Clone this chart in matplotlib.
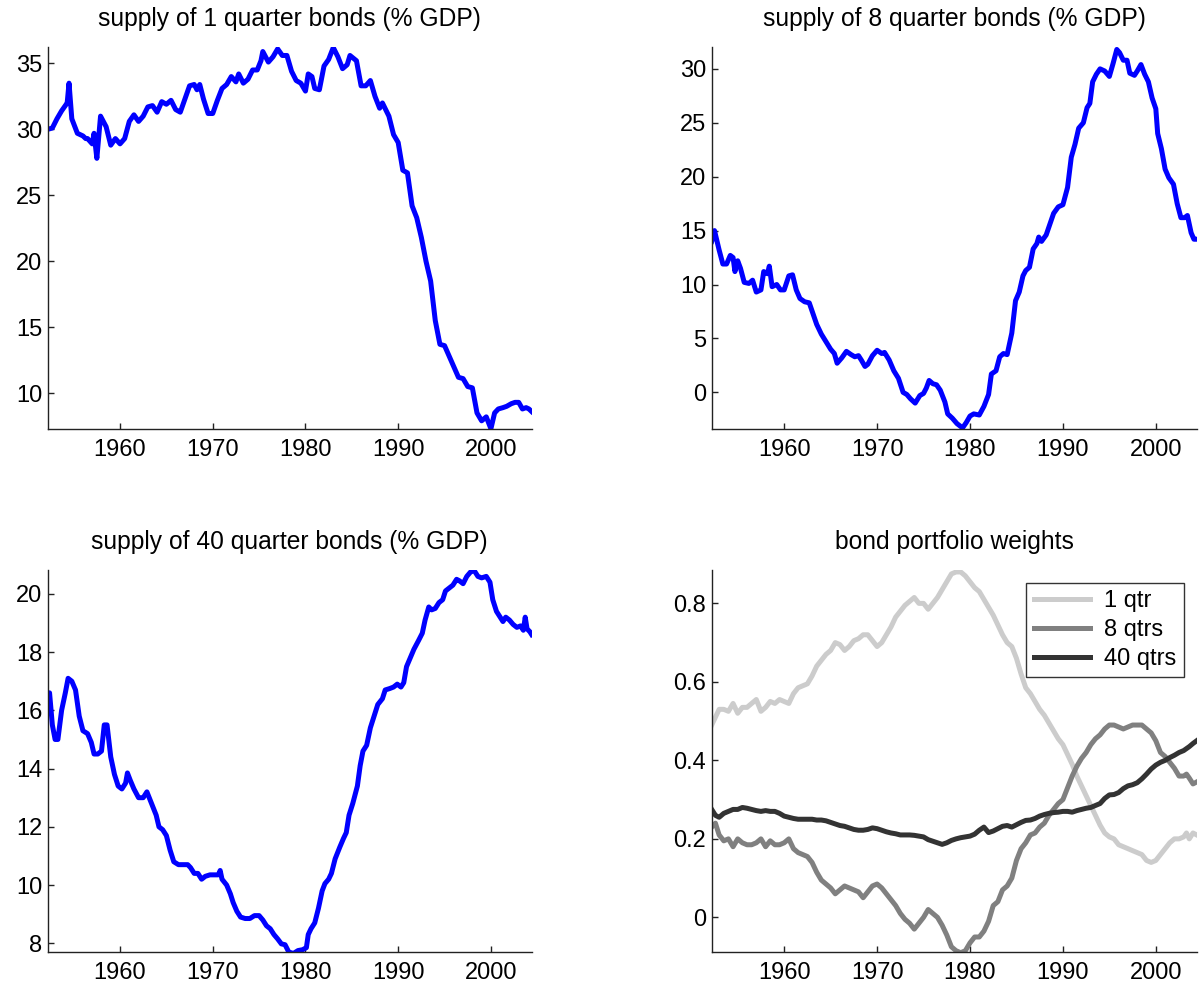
import numpy as np
import matplotlib
matplotlib.use("Agg")
import matplotlib.pyplot as plt

plt.rcParams['font.family'] = ['Liberation Sans', 'DejaVu Sans']

# ---- supply of 1 quarter bonds (% GDP) ----
yr_1q = [1952.2, 1952.7, 1953.2, 1953.7, 1954.2, 1954.3, 1954.5, 1954.8, 1955.4, 1956.0,
         1956.3, 1956.5, 1957.0, 1957.2, 1957.5, 1957.9, 1958.5, 1959.0, 1959.5, 1960.0,
         1960.5, 1961.0, 1961.5, 1962.0, 1962.5, 1963.0, 1963.5, 1964.0, 1964.5, 1965.0,
         1965.5, 1966.0, 1966.5, 1967.0, 1967.5, 1968.0, 1968.3, 1968.6, 1969.0, 1969.5,
         1970.0, 1970.5, 1971.0, 1971.5, 1972.0, 1972.5, 1972.8, 1973.3, 1973.8, 1974.3,
         1974.8, 1975.2, 1975.4, 1976.0, 1976.5, 1977.0, 1977.5, 1978.0, 1978.5, 1979.0,
         1979.5, 1980.0, 1980.3, 1980.7, 1981.0, 1981.5, 1982.0, 1982.5, 1983.0, 1983.5,
         1984.0, 1984.5, 1984.8, 1985.5, 1986.0, 1986.5, 1987.0, 1987.5, 1988.0, 1988.3,
         1989.0, 1989.5, 1990.0, 1990.5, 1991.0, 1991.5, 1992.0, 1992.5, 1993.0, 1993.5,
         1994.0, 1994.5, 1995.0, 1995.5, 1996.0, 1996.5, 1997.0, 1997.5, 1998.0, 1998.5,
         1999.0, 1999.5, 2000.0, 2000.4, 2000.8, 2001.3, 2001.7, 2002.2, 2002.6, 2003.0,
         2003.4, 2003.8, 2004.1, 2004.4]
sup_1q = [30.0, 30.1, 30.8, 31.4, 31.9, 32.0, 33.5, 30.8, 29.7, 29.5,
          29.3, 29.3, 28.9, 29.7, 27.8, 31.0, 30.2, 28.8, 29.3, 28.9,
          29.3, 30.6, 31.1, 30.6, 31.0, 31.7, 31.8, 31.3, 32.1, 31.9,
          32.2, 31.5, 31.3, 32.3, 33.3, 33.4, 33.0, 33.4, 32.3, 31.2,
          31.2, 32.2, 33.1, 33.4, 34.0, 33.6, 34.2, 33.5, 33.8, 34.5,
          34.5, 35.2, 35.9, 35.1, 35.5, 36.1, 35.6, 35.6, 34.4, 33.7,
          33.5, 32.9, 34.2, 34.0, 33.1, 33.0, 34.8, 35.3, 36.2, 35.5,
          34.6, 34.9, 35.6, 35.2, 33.3, 33.3, 33.7, 32.5, 31.6, 32.0,
          31.0, 29.6, 29.0, 26.9, 26.7, 24.2, 23.3, 21.8, 20.0, 18.5,
          15.5, 13.7, 13.6, 12.8, 12.0, 11.2, 11.1, 10.5, 10.4, 8.5,
          7.9, 8.2, 7.3, 8.5, 8.8, 8.9, 9.0, 9.2, 9.3, 9.3,
          8.8, 8.9, 8.8, 8.6]

# ---- supply of 8 quarter bonds (% GDP) ----
yr_8q = [1952.2, 1952.5, 1953.0, 1953.4, 1953.8, 1954.2, 1954.5, 1954.7, 1955.0, 1955.3,
         1955.7, 1956.2, 1956.6, 1957.0, 1957.5, 1957.8, 1958.2, 1958.4, 1958.7, 1959.2,
         1959.6, 1960.0, 1960.5, 1960.9, 1961.3, 1961.7, 1962.2, 1962.7, 1963.1, 1963.5,
         1964.0, 1964.5, 1965.0, 1965.4, 1965.7, 1966.2, 1966.7, 1967.2, 1967.6, 1968.0,
         1968.3, 1968.7, 1969.0, 1969.5, 1970.0, 1970.5, 1970.8, 1971.3, 1971.8, 1972.3,
         1972.8, 1973.2, 1973.6, 1974.1, 1974.6, 1975.0, 1975.3, 1975.6, 1976.0, 1976.4,
         1976.8, 1977.3, 1977.6, 1978.1, 1978.6, 1979.2, 1979.6, 1980.0, 1980.4, 1981.0,
         1981.5, 1982.0, 1982.3, 1982.8, 1983.2, 1983.6, 1984.0, 1984.5, 1984.9, 1985.3,
         1985.7, 1986.0, 1986.4, 1986.8, 1987.2, 1987.4, 1987.7, 1988.2, 1988.6, 1989.0,
         1989.5, 1990.0, 1990.5, 1990.9, 1991.3, 1991.7, 1992.2, 1992.6, 1992.9, 1993.2,
         1993.6, 1994.0, 1994.5, 1995.0, 1995.4, 1995.8, 1996.1, 1996.5, 1996.9, 1997.2,
         1997.7, 1998.0, 1998.4, 1998.8, 1999.2, 1999.6, 2000.0, 2000.2, 2000.6, 2001.0,
         2001.4, 2001.9, 2002.3, 2002.7, 2003.1, 2003.4, 2003.8, 2004.1, 2004.4]
sup_8q = [14.0, 15.0, 13.2, 11.9, 11.9, 12.7, 12.5, 11.2, 12.2, 11.5,
          10.2, 10.1, 10.4, 9.3, 9.5, 11.2, 11.0, 11.7, 9.8, 10.0,
          9.5, 9.5, 10.8, 10.9, 9.5, 8.7, 8.4, 8.3, 7.3, 6.3,
          5.4, 4.7, 4.0, 3.6, 2.7, 3.2, 3.8, 3.5, 3.3, 3.4,
          3.0, 2.4, 2.6, 3.4, 3.9, 3.6, 3.7, 3.0, 2.0, 1.3,
          0.0, -0.2, -0.6, -1.0, -0.3, -0.1, 0.4, 1.1, 0.8, 0.7,
          0.2, -0.9, -2.0, -2.4, -2.9, -3.3, -2.8, -2.2, -2.0, -2.1,
          -1.3, -0.2, 1.7, 2.0, 3.3, 3.6, 3.5, 5.5, 8.5, 9.3,
          10.8, 11.3, 11.6, 13.3, 13.8, 14.4, 14.0, 14.6, 15.6, 16.6,
          17.2, 17.4, 19.0, 21.8, 23.0, 24.5, 25.0, 26.4, 26.8, 28.8,
          29.5, 30.0, 29.8, 29.3, 30.5, 31.8, 31.5, 30.8, 30.8, 29.6,
          29.4, 29.8, 30.4, 29.5, 28.8, 27.3, 26.3, 24.0, 22.6, 20.7,
          19.9, 19.3, 17.5, 16.2, 16.2, 16.4, 14.8, 14.2, 14.2]

# ---- supply of 40 quarter bonds (% GDP) ----
yr_40q = [1952.2, 1952.4, 1952.7, 1953.0, 1953.3, 1953.7, 1954.1, 1954.4, 1954.8, 1955.2,
          1955.6, 1956.0, 1956.5, 1956.9, 1957.2, 1957.6, 1958.0, 1958.3, 1958.6, 1959.0,
          1959.4, 1959.8, 1960.2, 1960.6, 1960.8, 1961.1, 1961.5, 1962.0, 1962.5, 1962.9,
          1963.4, 1963.9, 1964.2, 1964.6, 1965.0, 1965.4, 1965.8, 1966.3, 1966.8, 1967.3,
          1967.6, 1968.0, 1968.4, 1968.8, 1969.2, 1969.7, 1970.2, 1970.6, 1970.8, 1971.0,
          1971.5, 1971.9, 1972.2, 1972.6, 1973.0, 1973.5, 1974.0, 1974.5, 1975.0, 1975.4,
          1975.8, 1976.2, 1976.6, 1977.0, 1977.4, 1977.8, 1978.2, 1978.7, 1979.2, 1979.7,
          1980.1, 1980.3, 1980.6, 1981.0, 1981.4, 1981.8, 1982.1, 1982.5, 1982.8, 1983.2,
          1983.7, 1984.1, 1984.4, 1984.7, 1985.1, 1985.6, 1985.9, 1986.2, 1986.6, 1987.0,
          1987.4, 1987.8, 1988.3, 1988.6, 1989.1, 1989.5, 1989.9, 1990.3, 1990.6, 1990.9,
          1991.3, 1991.7, 1992.2, 1992.6, 1992.9, 1993.3, 1993.6, 1994.0, 1994.4, 1994.8,
          1995.1, 1995.5, 1995.9, 1996.3, 1996.6, 1997.0, 1997.4, 1997.8, 1998.2, 1998.6,
          1999.0, 1999.5, 1999.9, 2000.2, 2000.6, 2001.0, 2001.3, 2001.6, 2002.0, 2002.4,
          2002.8, 2003.2, 2003.5, 2003.7, 2003.9, 2004.2, 2004.4]
sup_40q = [16.6, 16.6, 15.5, 15.0, 15.0, 16.0, 16.6, 17.1, 17.0, 16.7,
           15.8, 15.3, 15.2, 14.9, 14.5, 14.5, 14.6, 15.5, 15.5, 14.4,
           13.8, 13.4, 13.3, 13.5, 13.85, 13.6, 13.3, 13.0, 13.0, 13.2,
           12.8, 12.4, 12.0, 11.9, 11.7, 11.2, 10.8, 10.7, 10.7, 10.7,
           10.6, 10.4, 10.4, 10.2, 10.3, 10.35, 10.35, 10.35, 10.5, 10.2,
           10.0, 9.7, 9.4, 9.1, 8.9, 8.85, 8.85, 8.95, 8.95, 8.8,
           8.6, 8.5, 8.3, 8.15, 7.98, 7.95, 7.7, 7.65, 7.75, 7.78,
           7.85, 8.3, 8.5, 8.7, 9.2, 9.8, 10.05, 10.2, 10.4, 10.9,
           11.3, 11.6, 11.8, 12.4, 12.8, 13.4, 14.1, 14.6, 14.8, 15.4,
           15.8, 16.2, 16.4, 16.7, 16.75, 16.8, 16.9, 16.8, 16.95, 17.5,
           17.8, 18.1, 18.4, 18.65, 19.1, 19.55, 19.45, 19.5, 19.7, 19.8,
           20.1, 20.2, 20.3, 20.5, 20.45, 20.35, 20.6, 20.75, 20.8, 20.6,
           20.55, 20.6, 20.4, 19.8, 19.4, 19.2, 19.05, 19.2, 19.1, 18.95,
           18.85, 18.9, 18.75, 19.2, 18.8, 18.7, 18.6]

# ---- bond portfolio weights ----
yr_w = [1952.2, 1952.6, 1953.0, 1953.5, 1954.0, 1954.5, 1955.0, 1955.5, 1956.0, 1956.5,
        1957.0, 1957.5, 1958.0, 1958.5, 1959.0, 1959.5, 1960.0, 1960.5, 1961.0, 1961.5,
        1962.0, 1962.5, 1963.0, 1963.5, 1964.0, 1964.5, 1965.0, 1965.5, 1966.0, 1966.5,
        1967.0, 1967.5, 1968.0, 1968.5, 1969.0, 1969.5, 1970.0, 1970.5, 1971.0, 1971.5,
        1972.0, 1972.5, 1973.0, 1973.5, 1974.0, 1974.5, 1975.0, 1975.5, 1976.0, 1976.5,
        1977.0, 1977.5, 1978.0, 1978.5, 1979.0, 1979.5, 1980.0, 1980.5, 1981.0, 1981.5,
        1982.0, 1982.5, 1983.0, 1983.5, 1984.0, 1984.5, 1985.0, 1985.5, 1986.0, 1986.5,
        1987.0, 1987.5, 1988.0, 1988.5, 1989.0, 1989.5, 1990.0, 1990.5, 1991.0, 1991.5,
        1992.0, 1992.5, 1993.0, 1993.5, 1994.0, 1994.5, 1995.0, 1995.5, 1996.0, 1996.5,
        1997.0, 1997.5, 1998.0, 1998.5, 1999.0, 1999.5, 2000.0, 2000.5, 2001.0, 2001.5,
        2002.0, 2002.5, 2003.0, 2003.3, 2003.6, 2004.0, 2004.4]
w_1q = [0.49, 0.51, 0.53, 0.53, 0.525, 0.545, 0.52, 0.535, 0.535, 0.545,
        0.555, 0.525, 0.535, 0.55, 0.545, 0.555, 0.55, 0.545, 0.57, 0.585,
        0.59, 0.595, 0.615, 0.64, 0.655, 0.67, 0.68, 0.70, 0.695, 0.68,
        0.69, 0.705, 0.71, 0.72, 0.72, 0.705, 0.69, 0.70, 0.72, 0.74,
        0.765, 0.78, 0.795, 0.805, 0.815, 0.80, 0.80, 0.785, 0.80, 0.815,
        0.835, 0.855, 0.875, 0.88, 0.88, 0.87, 0.855, 0.84, 0.83, 0.81,
        0.79, 0.77, 0.745, 0.72, 0.70, 0.69, 0.66, 0.62, 0.585, 0.57,
        0.55, 0.53, 0.515, 0.495, 0.475, 0.455, 0.44, 0.415, 0.39, 0.36,
        0.335, 0.31, 0.285, 0.26, 0.235, 0.215, 0.205, 0.20, 0.185, 0.18,
        0.175, 0.17, 0.165, 0.16, 0.145, 0.14, 0.145, 0.16, 0.175, 0.19,
        0.20, 0.20, 0.205, 0.215, 0.20, 0.215, 0.21]
w_8q = [0.23, 0.24, 0.21, 0.195, 0.20, 0.18, 0.20, 0.19, 0.185, 0.185,
        0.19, 0.20, 0.18, 0.195, 0.185, 0.185, 0.19, 0.20, 0.175, 0.165,
        0.16, 0.155, 0.14, 0.115, 0.095, 0.085, 0.075, 0.06, 0.07, 0.08,
        0.075, 0.07, 0.065, 0.05, 0.065, 0.08, 0.085, 0.075, 0.06, 0.045,
        0.03, 0.01, -0.005, -0.015, -0.03, -0.015, 0.0, 0.02, 0.01, 0.0,
        -0.02, -0.045, -0.075, -0.085, -0.09, -0.085, -0.065, -0.05, -0.05, -0.035,
        -0.01, 0.03, 0.04, 0.07, 0.08, 0.10, 0.145, 0.175, 0.19, 0.21,
        0.215, 0.23, 0.24, 0.26, 0.275, 0.29, 0.30, 0.33, 0.36, 0.385,
        0.405, 0.42, 0.44, 0.455, 0.465, 0.48, 0.49, 0.49, 0.485, 0.48,
        0.485, 0.49, 0.49, 0.49, 0.48, 0.47, 0.45, 0.42, 0.41, 0.395,
        0.38, 0.36, 0.36, 0.365, 0.355, 0.34, 0.345]
w_40q = [0.275, 0.26, 0.255, 0.265, 0.27, 0.275, 0.275, 0.28, 0.278, 0.275,
         0.272, 0.27, 0.272, 0.27, 0.27, 0.265, 0.258, 0.255, 0.252, 0.25,
         0.25, 0.25, 0.25, 0.248, 0.248, 0.246, 0.242, 0.238, 0.234, 0.232,
         0.228, 0.224, 0.222, 0.222, 0.224, 0.228, 0.226, 0.222, 0.218, 0.215,
         0.213, 0.21, 0.21, 0.21, 0.209, 0.207, 0.205, 0.198, 0.194, 0.19,
         0.186, 0.19, 0.196, 0.2, 0.203, 0.205, 0.207, 0.212, 0.222, 0.23,
         0.216, 0.22, 0.226, 0.232, 0.234, 0.23, 0.236, 0.242, 0.247, 0.248,
         0.252, 0.258, 0.262, 0.265, 0.267, 0.268, 0.27, 0.27, 0.268, 0.272,
         0.275, 0.278, 0.28, 0.285, 0.29, 0.303, 0.312, 0.313, 0.318, 0.328,
         0.335, 0.338, 0.343, 0.353, 0.365, 0.378, 0.388, 0.395, 0.40, 0.407,
         0.413, 0.42, 0.425, 0.43, 0.435, 0.443, 0.45]

titles = ['supply of 1 quarter bonds (% GDP)', 'supply of 8 quarter bonds (% GDP)',
          'supply of 40 quarter bonds (% GDP)', 'bond portfolio weights']
labels_w = ['1 qtr', '8 qtrs', '40 qtrs']
grays = [(0.8, 0.8, 0.8), (0.5, 0.5, 0.5), (0.2, 0.2, 0.2)]

FS = 17
fig = plt.figure(figsize=(12.03, 9.93), dpi=100)
W, H = 1203.0, 993.0
# axes boxes in pixels: left, top, right, bottom
boxes = [(47.7, 47.3, 531.7, 429.0), (711.7, 47.3, 1196.7, 429.0),
         (47.7, 570.0, 531.7, 952.3), (711.7, 570.0, 1196.7, 952.3)]
axs = []
for (l, t, r, b) in boxes:
    axs.append(fig.add_axes([l / W, 1 - b / H, (r - l) / W, (b - t) / H]))


def style(ax, title):
    ax.spines['top'].set_visible(False)
    ax.spines['right'].set_visible(False)
    for s in ['left', 'bottom']:
        ax.spines[s].set_linewidth(1.0)
        ax.spines[s].set_color('#222222')
    ax.tick_params(direction='in', length=4, width=1, labelsize=FS, colors='#222222',
                   labelcolor='black')
    ax.tick_params(axis='x', pad=7)
    ax.tick_params(axis='y', pad=4)
    ax.set_xticks([1960, 1970, 1980, 1990, 2000])
    ax.set_xlim(1952.2, 2004.4)
    ax.set_title(title, fontsize=17.7, pad=15)


axs[0].plot(yr_1q, sup_1q, color='blue', lw=3.6, solid_joinstyle='round')
style(axs[0], titles[0])
axs[0].set_ylim(7.28, 36.22)
axs[0].set_yticks([10, 15, 20, 25, 30, 35])

axs[1].plot(yr_8q, sup_8q, color='blue', lw=3.6, solid_joinstyle='round')
style(axs[1], titles[1])
axs[1].set_ylim(-3.4, 32.0)
axs[1].set_yticks([0, 5, 10, 15, 20, 25, 30])

axs[2].plot(yr_40q, sup_40q, color='blue', lw=3.6, solid_joinstyle='round')
style(axs[2], titles[2])
axs[2].set_ylim(7.69, 20.82)
axs[2].set_yticks([8, 10, 12, 14, 16, 18, 20])

for w, lab, c in zip([w_1q, w_8q, w_40q], labels_w, grays):
    axs[3].plot(yr_w, w, color=c, lw=3.6, label=lab, solid_joinstyle='round')
style(axs[3], titles[3])
axs[3].set_ylim(-0.089, 0.885)
axs[3].set_yticks([0, 0.2, 0.4, 0.6, 0.8])
axs[3].set_yticklabels(['0', '0.2', '0.4', '0.6', '0.8'])
leg = axs[3].legend(loc='upper right', fontsize=FS, frameon=True, fancybox=False,
                    edgecolor='black', handlelength=2.4, handletextpad=0.6,
                    labelspacing=0.3, borderaxespad=0.55, borderpad=0.3)
leg.get_frame().set_linewidth(1.0)

fig.savefig('out.png', dpi=100)
